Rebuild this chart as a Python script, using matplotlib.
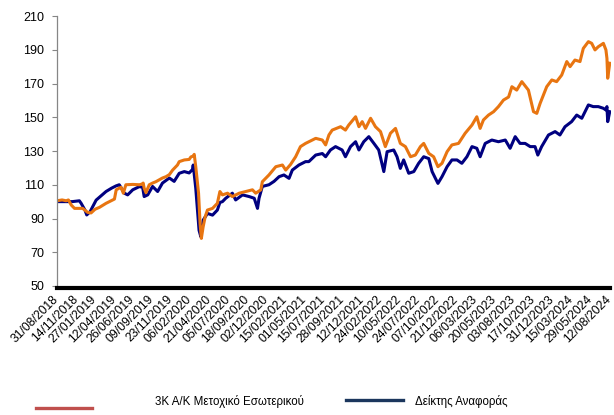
import datetime as dt
import matplotlib
matplotlib.use("Agg")
import matplotlib.pyplot as plt
from matplotlib.lines import Line2D

plt.rcParams['font.family'] = ['Liberation Sans', 'DejaVu Sans']

# start of the series, offsets below are calendar days from this date
start = dt.date(2018, 8, 31)

# 3K A/K Μετοχικό Εσωτερικού
fund_days = [0, 20, 36, 45, 56, 69, 101, 121, 134, 150, 167, 193, 206, 226, 233, 245,
             252, 261, 271, 298, 324, 337, 339, 343, 350, 363, 376, 389, 415, 429, 442,
             455, 474, 481, 501, 520, 527, 536, 540, 546, 557, 563, 568, 575, 583, 592,
             612, 631, 641, 651, 671, 690, 717, 743, 769, 782, 802, 808, 834, 861, 887,
             900, 919, 939, 958, 978, 1018, 1044, 1057, 1070, 1083, 1116, 1135, 1148,
             1175, 1188, 1201, 1214, 1234, 1253, 1273, 1292, 1312, 1332, 1351, 1371,
             1391, 1410, 1430, 1443, 1463, 1482, 1499, 1515, 1535, 1554, 1580, 1606,
             1633, 1652, 1665, 1678, 1698, 1718, 1737, 1757, 1777, 1790, 1809, 1829,
             1855, 1875, 1888, 1901, 1927, 1947, 1966, 1986, 2006, 2019, 2038, 2058,
             2071, 2091, 2104, 2117, 2130, 2150, 2160, 2164, 2167, 2175]
fund_vals = [100.5, 101, 100.5, 101, 98, 96, 96, 93.6, 93.3, 95.5, 96.6, 99, 100, 101.5,
             107, 108, 108.5, 105, 110, 110.2, 110, 110.5, 111, 108, 105.3, 110, 111,
             111.8, 114, 114.8, 116, 118.7, 121.7, 123.7, 124.7, 125, 126.5, 127, 128,
             120.7, 105, 87, 78.2, 85, 91, 95, 96, 99, 106, 104, 105, 103, 105, 106,
             107, 105, 107, 111.8, 115.8, 120.7, 121.7, 118.7, 122, 126.6, 132.6, 134.5,
             137.5, 136.5, 133.6, 139.5, 142.4, 144.4, 142.4, 145.4, 150.3, 144.4,
             147.4, 143.4, 149.4, 144.4, 141.5, 132.6, 140.5, 143.4, 134.5, 132.6,
             126.6, 127.6, 132.6, 134.5, 128.6, 126.6, 120.7, 122.7, 129.6, 133.6,
             134.5, 140.5, 145.4, 150.3, 143.4, 148.4, 151.3, 153.3, 156.3, 160.2, 162,
             168.1, 166.1, 171.1, 166.1, 153.3, 152.3, 158.2, 168.1, 172.1, 171.1, 175,
             183, 180, 183.9, 183, 190.8, 194.8, 193.8, 189.9, 191.8, 193.8, 189.9,
             184.9, 173.1, 182]

# Δείκτης Αναφοράς
bench_days = [0, 36, 60, 88, 95, 110, 117, 130, 154, 193, 215, 232, 245, 265, 278, 298,
              324, 337, 343, 357, 376, 396, 415, 442, 461, 481, 501, 520, 533, 536, 546,
              559, 566, 575, 592, 612, 631, 641, 651, 664, 690, 703, 730, 756, 776, 789,
              795, 808, 834, 854, 874, 893, 913, 926, 952, 978, 991, 1018, 1044, 1057,
              1076, 1096, 1122, 1135, 1155, 1175, 1188, 1207, 1227, 1247, 1266, 1286,
              1299, 1325, 1338, 1351, 1364, 1384, 1404, 1423, 1443, 1463, 1476, 1489,
              1499, 1515, 1535, 1554, 1574, 1593, 1613, 1633, 1652, 1665, 1685, 1711,
              1737, 1764, 1783, 1803, 1822, 1842, 1862, 1881, 1892, 1907, 1934, 1960,
              1979, 1999, 2025, 2045, 2065, 2091, 2110, 2130, 2150, 2160, 2164, 2167,
              2175]
bench_vals = [100, 100, 100, 100.5, 99, 95, 92.1, 94, 100.9, 106, 108, 109.3, 110, 105,
              104, 107, 108.9, 108.5, 103, 104, 109, 106, 111, 114, 112, 116.8, 117.8,
              117, 119, 121.7, 107.9, 83, 79.2, 89, 93, 92, 95, 99.5, 100, 102, 105, 101,
              104, 103, 102, 96, 102, 109, 110, 112, 114.8, 115.8, 113.8, 118.7, 121.7,
              123.7, 123.7, 127.6, 128.5, 126.6, 130.6, 132.6, 130.6, 126.6, 132.6,
              135.5, 130.6, 135.5, 138.5, 134.5, 130.6, 117.8, 129.6, 130.6, 126.6,
              119.7, 124.7, 116.8, 117.8, 122.7, 126.6, 125.5, 117.8, 113.8, 110.8,
              114.8, 120.7, 124.7, 124.7, 122.7, 126.6, 132.6, 131.6, 126.6, 134.5,
              136.5, 135.5, 136.5, 131.6, 138.5, 134.5, 134.5, 132.6, 132.6, 127.6,
              132.6, 139.5, 141.5, 139.5, 144.4, 147.4, 151.3, 149.4, 157.3, 156.3,
              156.3, 155.3, 154.3, 156.3, 147.4, 153.3]

tick_labels = ['31/08/2018', '14/11/2018', '27/01/2019', '12/04/2019', '26/06/2019',
               '09/09/2019', '23/11/2019', '06/02/2020', '21/04/2020', '05/07/2020',
               '18/09/2020', '02/12/2020', '15/02/2021', '01/05/2021', '15/07/2021',
               '28/09/2021', '12/12/2021', '24/02/2022', '10/05/2022', '24/07/2022',
               '07/10/2022', '21/12/2022', '06/03/2023', '20/05/2023', '03/08/2023',
               '17/10/2023', '31/12/2023', '15/03/2024', '29/05/2024', '12/08/2024']

series_names = ['3K A/K Μετοχικό Εσωτερικού', 'Δείκτης Αναφοράς']

fund_x = [start + dt.timedelta(days=d) for d in fund_days]
bench_x = [start + dt.timedelta(days=d) for d in bench_days]
tick_x = [dt.datetime.strptime(s, '%d/%m/%Y').date() for s in tick_labels]

W, H = 614, 415
fig = plt.figure(figsize=(W / 100, H / 100), dpi=100, facecolor='white')
ax = fig.add_axes([57 / W, 1 - 286 / H, 553.5 / W, 270 / H])

# spines first: set_position resets the ticks
for s in ['top', 'right']:
    ax.spines[s].set_visible(False)
ax.spines['left'].set_color('#868686')
ax.spines['left'].set_linewidth(0.9)
ax.spines['bottom'].set_position(('outward', 1.2))
ax.spines['bottom'].set_color('black')
ax.spines['bottom'].set_linewidth(3)
ax.spines['bottom'].set_zorder(5)

ax.plot(bench_x, bench_vals, color='#000080', lw=2.2, solid_joinstyle='round')
ax.plot(fund_x, fund_vals, color='#E87511', lw=2.2, solid_joinstyle='round')

ax.set_ylim(50, 210)
ax.set_yticks(range(50, 211, 20))
ax.set_xlim(start, start + dt.timedelta(days=2178))
ax.set_xticks(tick_x)
ax.set_xticklabels(tick_labels, rotation=45, ha='right', va='center',
                   rotation_mode='anchor', fontsize=8.8)

ax.tick_params(axis='x', length=0, pad=7)
ax.tick_params(axis='y', direction='out', length=3.6, width=0.8, color='#868686',
               labelsize=9, pad=5.5)

# legend drawn by hand to keep the original's odd spacing
def fx(px):
    return px / W

def fy(py):
    return 1 - py / H

fig.add_artist(Line2D([fx(36), fx(92)], [fy(407.5), fy(407.5)], color='#C0504D', lw=2.4,
                      transform=fig.transFigure))
fig.add_artist(Line2D([fx(346), fx(403)], [fy(399.5), fy(399.5)], color='#1B365D', lw=2.4,
                      transform=fig.transFigure))
fig.text(fx(155), fy(401), series_names[0], fontsize=8.3, va='center', ha='left')
fig.text(fx(415), fy(401), series_names[1], fontsize=8.3, va='center', ha='left')

fig.savefig('out.png', dpi=100, facecolor='white')
